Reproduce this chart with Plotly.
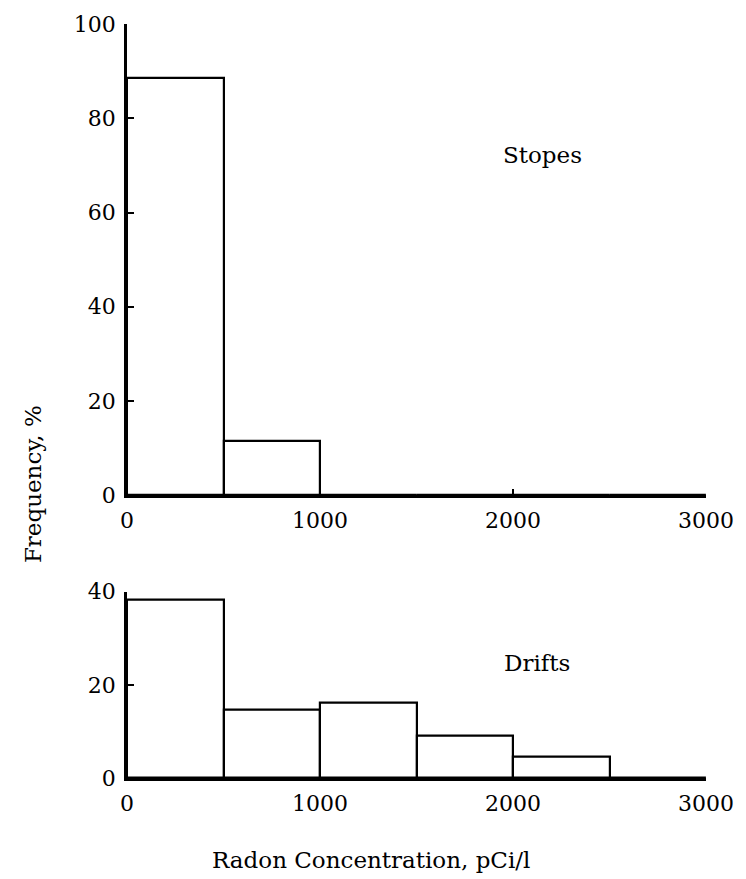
import plotly.graph_objects as go
from plotly.subplots import make_subplots

bin_edges = [0, 500, 1000, 1500, 2000, 2500, 3000]
stopes_freq = [88.5, 11.6, 0, 0, 0, 0]
drifts_freq = [38.3, 14.6, 16.2, 9.0, 4.5, 0]
x_ticks = [0, 1000, 2000, 3000]
stopes_yticks = [0, 20, 40, 60, 80, 100]
drifts_yticks = [0, 20, 40]

centers = [(a + b) / 2 for a, b in zip(bin_edges[:-1], bin_edges[1:])]
widths = [b - a for a, b in zip(bin_edges[:-1], bin_edges[1:])]

FONT = "DejaVu Serif"
fig = make_subplots(rows=2, cols=1)

def add_hist(vals, row):
    fig.add_trace(go.Bar(x=centers, y=vals, width=widths,
                         marker=dict(color="rgba(0,0,0,0)", line=dict(color="black", width=2.2)),
                         showlegend=False, hoverinfo="skip"), row=row, col=1)

add_hist(stopes_freq, 1)
add_hist(drifts_freq, 2)

axis_common = dict(showgrid=False, zeroline=False, showline=True, linecolor="black",
                   linewidth=2.5, ticks="inside", ticklen=7, tickwidth=2, tickcolor="black",
                   tickfont=dict(family=FONT, size=22, color="black"))

fig.update_layout(
    width=746, height=879,
    margin=dict(l=127, r=38, t=21, b=101),
    plot_bgcolor="white", paper_bgcolor="white",
    bargap=0,
    xaxis=dict(domain=[0, 1], range=[0, 3000], tickvals=x_ticks, anchor="y",
               ticklabelstandoff=4, **axis_common),
    yaxis=dict(domain=[0.375, 1.0], range=[0, 100], tickvals=stopes_yticks, anchor="x",
               ticklabelstandoff=4, **axis_common),
    xaxis2=dict(domain=[0, 1], range=[0, 3000], tickvals=x_ticks, anchor="y2",
                ticklabelstandoff=4, **axis_common),
    yaxis2=dict(domain=[0.0, 0.247], range=[0, 40], tickvals=drifts_yticks, anchor="x2",
                ticklabelstandoff=4, **axis_common),
)

fig.add_annotation(text="Stopes", x=2153, y=72.3, xref="x", yref="y", showarrow=False,
                   font=dict(family=FONT, size=23, color="black"))
fig.add_annotation(text="Drifts", x=2122, y=24.6, xref="x2", yref="y2", showarrow=False,
                   font=dict(family=FONT, size=23, color="black"))
fig.add_annotation(text="Frequency, %", x=-0.188, y=0.39, xref="paper", yref="paper",
                   textangle=-90, showarrow=False,
                   font=dict(family=FONT, size=23, color="black"))
fig.add_annotation(text="Radon Concentration, pCi/l", x=0.4217, y=-0.129,
                   xref="paper", yref="paper", showarrow=False,
                   font=dict(family=FONT, size=23, color="black"))

fig.write_html("out.html")
